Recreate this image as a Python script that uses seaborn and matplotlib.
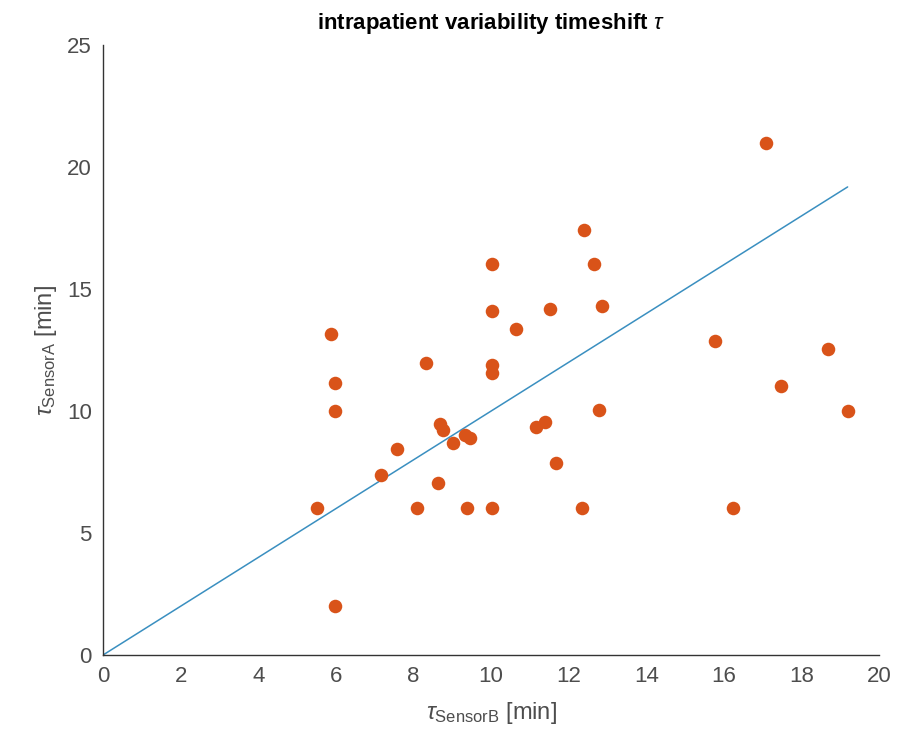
import matplotlib
matplotlib.use("Agg")
import matplotlib.pyplot as plt
import seaborn as sns
import numpy as np
import pandas as pd

# Data
tau_sensorB = [5.87, 5.99, 5.99, 5.52, 5.99,
               7.17, 7.59, 8.32, 8.63, 8.69, 8.77, 8.08, 9.01, 9.33, 9.46, 9.39,
               10.02, 10.02, 10.02, 10.02, 10.02, 10.64, 11.16, 11.39, 11.52, 11.68,
               12.40, 12.34, 12.65, 12.85, 12.77,
               15.77, 17.08, 17.47, 18.69, 19.19, 16.23]
tau_sensorA = [13.16, 11.16, 10.01, 6.02, 2.01,
               7.37, 8.46, 11.98, 7.04, 9.47, 9.22, 6.01, 8.70, 9.02, 8.91, 6.01,
               16.05, 14.10, 11.89, 11.57, 6.01, 13.38, 9.33, 9.54, 14.19, 7.86,
               17.42, 6.01, 16.05, 14.32, 10.04,
               12.88, 21.0, 11.04, 12.53, 10.01, 6.01]
x_ticks = [0, 2, 4, 6, 8, 10, 12, 14, 16, 18, 20]
y_ticks = [0, 5, 10, 15, 20, 25]

df = pd.DataFrame({"B": tau_sensorB, "A": tau_sensorA})

sns.set_style("white")
plt.rcParams["font.family"] = ["Liberation Sans", "DejaVu Sans"]
plt.rcParams["mathtext.fontset"] = "custom"
plt.rcParams["mathtext.rm"] = "Liberation Sans"
plt.rcParams["mathtext.it"] = "Liberation Sans:italic"

fig = plt.figure(figsize=(8.97, 7.41), dpi=100)
ax = fig.add_axes([0.1148, 0.116, 0.8652, 0.823])

# identity line from 0 to max of x
xmax = max(tau_sensorB)
line_df = pd.DataFrame({"x": [0, xmax], "y": [0, xmax]})
sns.lineplot(data=line_df, x="x", y="y", ax=ax, color="#3A8FC0", linewidth=1.1)

sns.scatterplot(data=df, x="B", y="A", ax=ax, color="#D95319", s=95,
                linewidth=0, zorder=3)

ax.set_xlim(0, 20)
ax.set_ylim(0, 25)
ax.set_xticks(x_ticks)
ax.set_yticks(y_ticks)
ax.tick_params(direction="in", length=5, width=1, color="#333333",
               labelcolor="#4D4D4D", labelsize=16, pad=8)
for s in ["top", "right"]:
    ax.spines[s].set_visible(False)
for s in ["left", "bottom"]:
    ax.spines[s].set_color("#333333")
    ax.spines[s].set_linewidth(1)

ax.set_xlabel(r"$\tau_{\mathrm{SensorB}}$ [min]", fontsize=17, color="#4D4D4D", labelpad=9)
ax.set_ylabel(r"$\tau_{\mathrm{SensorA}}$ [min]", fontsize=17, color="#4D4D4D", labelpad=6)
ax.set_title(r"intrapatient variability timeshift $\tau$", fontsize=16,
             fontweight="bold", color="black", pad=12)

fig.savefig("out.png", dpi=100)
